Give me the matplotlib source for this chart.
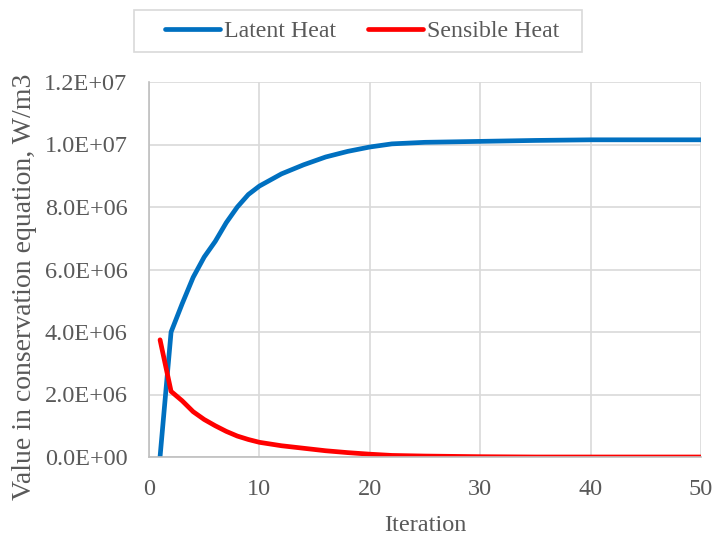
import matplotlib.pyplot as plt
from matplotlib.patches import Rectangle
from matplotlib.ticker import FuncFormatter

plt.rcParams['font.family'] = ['Liberation Serif', 'DejaVu Serif']

# Iteration history of the two source terms
iteration = [1, 2, 3, 4, 5, 6, 7, 8, 9, 10, 12, 14, 16, 18, 20, 22, 25, 30, 35, 40, 45, 50]
latent = [0.0, 4.0e6, 4.9e6, 5.75e6, 6.4e6, 6.9e6, 7.5e6, 8.0e6, 8.4e6, 8.67e6,
          9.06e6, 9.35e6, 9.6e6, 9.78e6, 9.92e6, 10.02e6, 10.07e6, 10.1e6,
          10.13e6, 10.15e6, 10.15e6, 10.15e6]
sensible = [3.75e6, 2.1e6, 1.8e6, 1.45e6, 1.2e6, 1.0e6, 0.82e6, 0.67e6, 0.56e6, 0.47e6,
            0.36e6, 0.28e6, 0.2e6, 0.14e6, 0.09e6, 0.05e6, 0.03e6, 0.01e6,
            0.0, 0.0, 0.0, 0.0]

gray = '#595959'
W, H = 714, 538

fig = plt.figure(figsize=(W / 100, H / 100), dpi=100)
ax = fig.add_axes([149 / W, 1 - 457 / H, 552 / W, 375 / H])

ax.plot(iteration, latent, color='#0070C0', lw=3.4, label='Latent Heat', solid_capstyle='round')
ax.plot(iteration, sensible, color='#FF0000', lw=3.4, label='Sensible Heat', solid_capstyle='round')

ax.set_xlim(0, 50)
ax.set_ylim(0, 1.2e7)
ax.set_xticks(range(0, 51, 10))
ax.set_yticks([i * 2e6 for i in range(7)])
ax.yaxis.set_major_formatter(FuncFormatter(lambda v, p: '%.1E' % v))

ax.grid(True, color='#D9D9D9', lw=1.2)
ax.set_axisbelow(True)
for s in ['top', 'right']:
    ax.spines[s].set_visible(False)
for s in ['left', 'bottom']:
    ax.spines[s].set_color('#BFBFBF')
    ax.spines[s].set_linewidth(1.2)
ax.tick_params(length=0, labelsize=17.5, labelcolor=gray)
ax.tick_params(axis='x', pad=15.5)
ax.tick_params(axis='y', pad=15.5)

ax.set_xlabel('Iteration', fontsize=17.5, color=gray, labelpad=11)
ax.set_ylabel('Value in conservation equation, W/m3', fontsize=20, color=gray)
ax.yaxis.set_label_coords(-112 / 552, 0.455)

# legend box across the top
fig.patches.append(Rectangle((134 / W, 1 - 52 / H), 448 / W, 42 / H,
                             transform=fig.transFigure, fill=False,
                             edgecolor='#D9D9D9', lw=1.2))
leg = fig.legend(loc='center', bbox_to_anchor=(362 / W, 1 - 31 / H), ncol=2,
                 fontsize=17.2, frameon=False, handlelength=2.3,
                 columnspacing=1.35, handletextpad=0.15)
for t in leg.get_texts():
    t.set_color(gray)

fig.savefig('out.png', dpi=100)
